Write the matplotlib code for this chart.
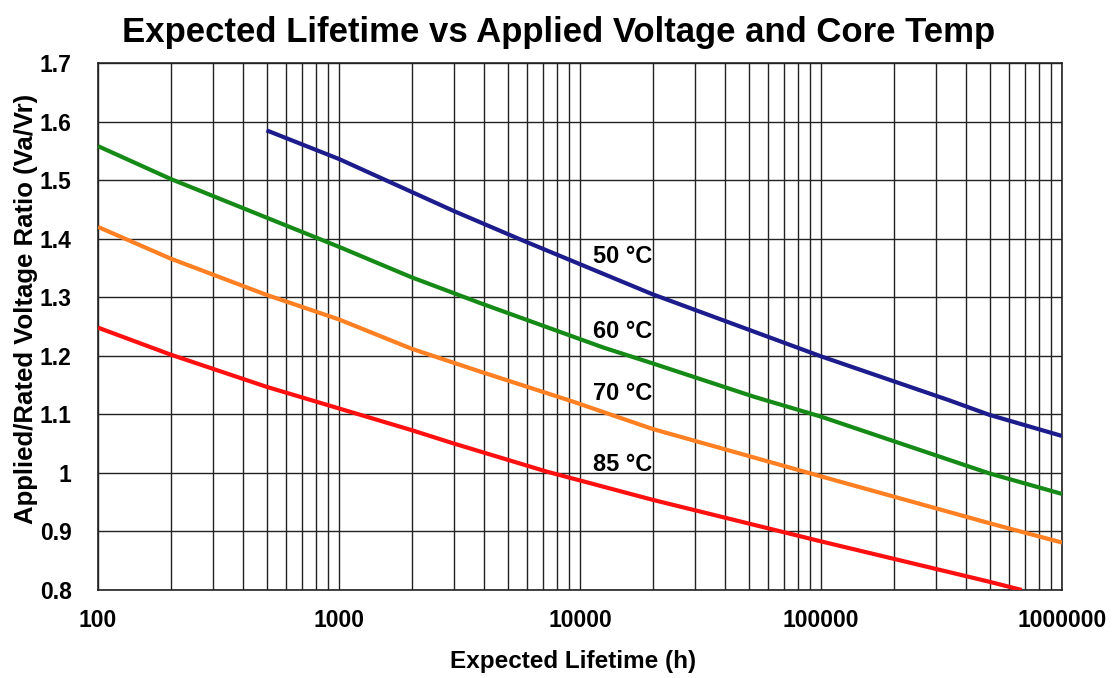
import matplotlib
matplotlib.use("Agg")
import matplotlib.pyplot as plt
from matplotlib.ticker import FixedLocator, LogLocator, NullFormatter, FixedFormatter
import numpy as np

# ---- data ----
h_50 = [500, 1000, 3000, 5700, 20000, 100000, 340000, 500000, 1000000]
v_50 = [1.585, 1.536, 1.447, 1.398, 1.305, 1.199, 1.124, 1.099, 1.063]

h_60 = [100, 200, 1000, 2000, 3850, 12500, 20000, 52700, 100000, 500000, 1000000]
v_60 = [1.558, 1.502, 1.386, 1.334, 1.290, 1.214, 1.187, 1.130, 1.096, 0.999, 0.964]

h_70 = [100, 200, 500, 1000, 2000, 3850, 9300, 20000, 100000, 500000, 1000000]
v_70 = [1.420, 1.366, 1.304, 1.262, 1.212, 1.173, 1.122, 1.075, 0.994, 0.914, 0.881]

h_85 = [100, 200, 500, 1000, 2000, 3000, 7300, 20000, 100000, 500000, 680000]
v_85 = [1.248, 1.202, 1.147, 1.110, 1.073, 1.050, 1.002, 0.954, 0.883, 0.814, 0.800]

labels = ["50 °C", "60 °C", "70 °C", "85 °C"]
label_x = [11300, 11300, 11300, 11300]
label_y = [1.369, 1.241, 1.136, 1.014]
colors = ["#1c1c8c", "#168a16", "#ff8022", "#ff1010"]

x_ticks = [100, 1000, 10000, 100000, 1000000]
x_ticklabels = ["100", "1000", "10000", "100000", "1000000"]
y_ticks = [0.8, 0.9, 1.0, 1.1, 1.2, 1.3, 1.4, 1.5, 1.6, 1.7]
y_ticklabels = ["0.8", "0.9", "1", "1.1", "1.2", "1.3", "1.4", "1.5", "1.6", "1.7"]

title = "Expected Lifetime vs Applied Voltage and Core Temp"
xlabel = "Expected Lifetime (h)"
ylabel = "Applied/Rated Voltage Ratio (Va/Vr)"

plt.rcParams['font.family'] = ['Liberation Sans', 'DejaVu Sans']
plt.rcParams['font.weight'] = 'bold'

fig = plt.figure(figsize=(11.18, 6.78), dpi=100)
ax = fig.add_axes([0.0877, 0.1298, 0.8623, 0.7773])

ax.set_xscale('log')
ax.set_xlim(100, 1000000)
ax.set_ylim(0.8, 1.7)

series = [(h_50, v_50), (h_60, v_60), (h_70, v_70), (h_85, v_85)]
for (hh, vv), c in zip(series, colors):
    ax.plot(hh, vv, color=c, lw=3.0, solid_capstyle='butt', solid_joinstyle='round', zorder=3)

for t, xx, yy in zip(labels, label_x, label_y):
    ax.text(xx, yy, t, fontsize=17, fontweight='bold', ha='left', va='center', zorder=4)

ax.xaxis.set_major_locator(FixedLocator(x_ticks))
ax.xaxis.set_major_formatter(FixedFormatter(x_ticklabels))
ax.xaxis.set_minor_locator(LogLocator(base=10, subs=np.arange(2, 10), numticks=20))
ax.xaxis.set_minor_formatter(NullFormatter())
ax.yaxis.set_major_locator(FixedLocator(y_ticks))
ax.yaxis.set_major_formatter(FixedFormatter(y_ticklabels))

ax.grid(True, which='major', axis='both', color='#222222', lw=1.0)
ax.grid(True, which='minor', axis='x', color='#222222', lw=1.0)
ax.set_axisbelow(True)
ax.tick_params(which='both', length=0)
ax.tick_params(axis='x', pad=14, labelsize=16.5)
ax.tick_params(axis='y', pad=19, labelsize=16.5)
for lab in ax.get_xticklabels() + ax.get_yticklabels():
    lab.set_fontweight('bold')
for sp in ax.spines.values():
    sp.set_color('#222222')
    sp.set_linewidth(1.2)

fig.text(0.5, 0.952, title, ha='center', va='center', fontsize=25, fontweight='bold')
fig.text(0.513, 0.024, xlabel, ha='center', va='center', fontsize=17.5, fontweight='bold')
fig.text(0.023, 0.545, ylabel, ha='center', va='center', rotation=90, fontsize=18.5, fontweight='bold')

fig.savefig("out.png", dpi=100, facecolor='white')
